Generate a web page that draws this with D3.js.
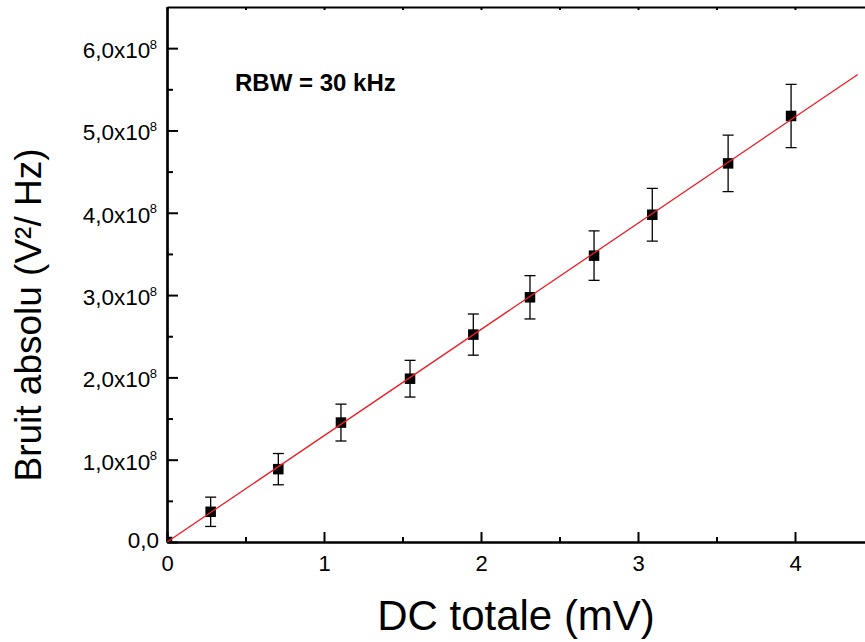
<!DOCTYPE html>
<html>
<head>
<meta charset="utf-8">
<script src="https://cdn.jsdelivr.net/npm/d3@7"></script>
<style>
  html, body { margin: 0; padding: 0; background: #fff; }
  svg { display: block; font-family: "Liberation Sans", Arial, sans-serif; }
</style>
</head>
<body>
<svg id="chart" width="865" height="642"></svg>
<script>
// ---- data ----
const dcValues = [0, 0.278, 0.709, 1.108, 1.548, 1.951, 2.312, 2.720, 3.091, 3.574, 3.975];
const noiseValues = [0, 0.367e8, 0.885e8, 1.451e8, 1.984e8, 2.52e8, 2.973e8, 3.479e8, 3.976e8, 4.60e8, 5.176e8];
const noiseErrors = [0, 0.178e8, 0.19e8, 0.224e8, 0.223e8, 0.25e8, 0.263e8, 0.30e8, 0.32e8, 0.343e8, 0.384e8];
const fitX = [0, 4.4];
const fitY = [0, 5.68e8];
const xMajorTicks = [0, 1, 2, 3, 4];
const xMinorTicks = [0.5, 1.5, 2.5, 3.5, 4.5];
const yMajorTicks = [0, 1e8, 2e8, 3e8, 4e8, 5e8, 6e8];
const yMinorTicks = [0.5e8, 1.5e8, 2.5e8, 3.5e8, 4.5e8, 5.5e8];
const yTickMantissa = ["0,0", "1,0x10", "2,0x10", "3,0x10", "4,0x10", "5,0x10", "6,0x10"];
const yTickExponent = "8";
const xTitle = "DC totale (mV)";
const yTitle = "Bruit absolu (V²/ Hz)";
const annotation = "RBW = 30 kHz";

(function () {
// ---- layout ----
const svg = d3.select("#chart");
const pLeft = 167, pRight = 873.5, pTop = 7, pBottom = 542;
const x = d3.scaleLinear().domain([0, 4.5]).range([pLeft, pRight]);
const y = d3.scaleLinear().domain([0, 6.5e8]).range([pBottom, pTop]);

svg.append("defs").append("clipPath").attr("id", "plotclip")
  .append("rect").attr("x", pLeft).attr("y", pTop)
  .attr("width", pRight - pLeft).attr("height", pBottom - pTop);

const axisStroke = 2.2;

// top axis (frame)
svg.append("g").attr("transform", `translate(0,${pTop})`)
  .call(d3.axisTop(x).tickValues(xMajorTicks.concat(xMinorTicks)).tickSize(-3).tickSizeOuter(0).tickFormat(""));

// bottom axis minor
svg.append("g").attr("transform", `translate(0,${pBottom})`)
  .call(d3.axisBottom(x).tickValues(xMinorTicks).tickSize(-5).tickSizeOuter(0).tickFormat(""));
// bottom axis major
const gBot = svg.append("g").attr("transform", `translate(0,${pBottom})`)
  .call(d3.axisBottom(x).tickValues(xMajorTicks).tickSize(-10).tickSizeOuter(0).tickFormat(d3.format("d")));
gBot.selectAll(".tick text")
  .attr("y", 29).attr("dy", 0)
  .attr("font-size", 22).attr("fill", "#000");

// left axis minor
svg.append("g").attr("transform", `translate(${pLeft},0)`)
  .call(d3.axisLeft(y).tickValues(yMinorTicks).tickSize(-6).tickSizeOuter(0).tickFormat(""));
// left axis major
const gLeft = svg.append("g").attr("transform", `translate(${pLeft},0)`)
  .call(d3.axisLeft(y).tickValues(yMajorTicks).tickSize(-11).tickSizeOuter(0).tickFormat(""));
gLeft.selectAll(".tick").each(function(d, i) {
  const t = d3.select(this).select("text");
  t.text(null).attr("font-size", 22.5).attr("fill", "#000").attr("text-anchor", "end").attr("dy", 0);
  if (d === 0) {
    t.attr("x", -8).attr("y", 5).text(yTickMantissa[i]);
  } else {
    t.attr("x", -10).attr("y", 9.5);
    t.append("tspan").text(yTickMantissa[i]);
    t.append("tspan").attr("dx", -0.5).attr("dy", -9.5).attr("font-size", 13).text(yTickExponent);
  }
});

svg.selectAll(".domain").attr("stroke", "#000").attr("stroke-width", axisStroke);
svg.selectAll(".tick line").attr("stroke", "#000").attr("stroke-width", 2);
svg.selectAll("g").attr("font-family", null);

// ---- data marks ----
const plot = svg.append("g").attr("clip-path", "url(#plotclip)");
const pts = dcValues.map((v, i) => ({ x: v, y: noiseValues[i], e: noiseErrors[i] }));
const capW = 5.5;

const eb = plot.append("g").attr("stroke", "#000").attr("stroke-width", 1.3);
pts.filter(p => p.e > 0).forEach(p => {
  eb.append("line").attr("x1", x(p.x)).attr("x2", x(p.x)).attr("y1", y(p.y - p.e)).attr("y2", y(p.y + p.e));
  eb.append("line").attr("x1", x(p.x) - capW).attr("x2", x(p.x) + capW).attr("y1", y(p.y + p.e)).attr("y2", y(p.y + p.e));
  eb.append("line").attr("x1", x(p.x) - capW).attr("x2", x(p.x) + capW).attr("y1", y(p.y - p.e)).attr("y2", y(p.y - p.e));
});

const sq = 10.5;
plot.append("g").selectAll("rect").data(pts).join("rect")
  .attr("x", d => x(d.x) - sq / 2).attr("y", d => y(d.y) - sq / 2)
  .attr("width", sq).attr("height", sq).attr("fill", "#000");

const fit = fitX.map((v, i) => [v, fitY[i]]);
plot.append("path").datum(fit)
  .attr("d", d3.line().x(d => x(d[0])).y(d => y(d[1])))
  .attr("fill", "none").attr("stroke", "#f01c24").attr("stroke-width", 1.3);

// ---- text ----
svg.append("text").attr("x", 235).attr("y", 91)
  .attr("font-size", 24).attr("font-weight", "bold").attr("fill", "#000").text(annotation);

svg.append("text").attr("x", 516).attr("y", 630).attr("text-anchor", "middle")
  .attr("font-size", 42).attr("fill", "#000").text(xTitle);

svg.append("text").attr("transform", "translate(41,315) rotate(-90)").attr("text-anchor", "middle")
  .attr("font-size", 37).attr("fill", "#000").text(yTitle);
})();
</script>
</body>
</html>
